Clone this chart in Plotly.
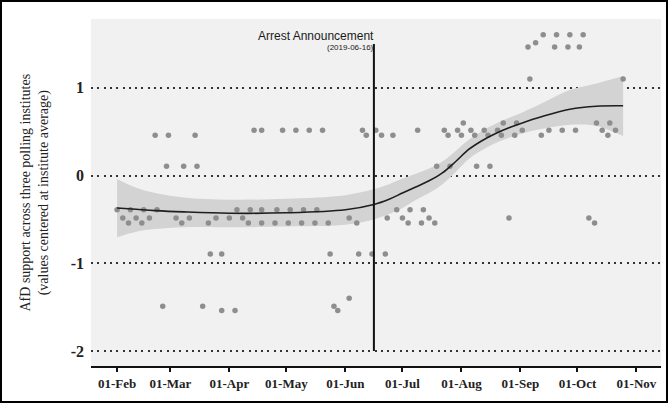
import plotly.graph_objects as go

# ---- data: centered AfD polling values ----
poll_dates = [
    "2019-02-01", "2019-02-04", "2019-02-07", "2019-02-08", "2019-02-11", "2019-02-14",
    "2019-02-15", "2019-02-18", "2019-02-21", "2019-02-22", "2019-02-25", "2019-02-27",
    "2019-02-28", "2019-03-04", "2019-03-07", "2019-03-08", "2019-03-11", "2019-03-14",
    "2019-03-15", "2019-03-18", "2019-03-21", "2019-03-22", "2019-03-25", "2019-03-28",
    "2019-03-28", "2019-04-01", "2019-04-04", "2019-04-05", "2019-04-08", "2019-04-11",
    "2019-04-12", "2019-04-14", "2019-04-18", "2019-04-18", "2019-04-18", "2019-04-25",
    "2019-04-26", "2019-04-29", "2019-05-02", "2019-05-03", "2019-05-06", "2019-05-09",
    "2019-05-10", "2019-05-13", "2019-05-16", "2019-05-17", "2019-05-20", "2019-05-23",
    "2019-05-24", "2019-05-26", "2019-05-28", "2019-06-03", "2019-06-03", "2019-06-07",
    "2019-06-08", "2019-06-10", "2019-06-12", "2019-06-15", "2019-06-17", "2019-06-20",
    "2019-06-22", "2019-06-23", "2019-06-26", "2019-06-28", "2019-07-01", "2019-07-04",
    "2019-07-05", "2019-07-09", "2019-07-11", "2019-07-12", "2019-07-15", "2019-07-18",
    "2019-07-19", "2019-07-23", "2019-07-25", "2019-07-26", "2019-07-30", "2019-08-01",
    "2019-08-02", "2019-08-06", "2019-08-08", "2019-08-09", "2019-08-13", "2019-08-15",
    "2019-08-16", "2019-08-20", "2019-08-22", "2019-08-23", "2019-08-26", "2019-08-29",
    "2019-08-30", "2019-09-02", "2019-09-05", "2019-09-06", "2019-09-09", "2019-09-12",
    "2019-09-13", "2019-09-16", "2019-09-19", "2019-09-20", "2019-09-23", "2019-09-26",
    "2019-09-27", "2019-09-30", "2019-10-02", "2019-10-04", "2019-10-07", "2019-10-10",
    "2019-10-11", "2019-10-14", "2019-10-17", "2019-10-18", "2019-10-21", "2019-10-25",
]
poll_values = [
    -0.39, -0.485, -0.54, -0.39, -0.485, -0.54,
    -0.39, -0.485, 0.46, -0.39, -1.49, 0.105,
    0.46, -0.485, -0.54, 0.105, -0.485, 0.46,
    0.105, -1.49, -0.54, -0.895, -0.485, -0.895,
    -1.54, -0.485, -1.54, -0.39, -0.485, -0.54,
    -0.39, 0.515, 0.515, -0.39, -0.54, -0.54,
    -0.39, 0.515, -0.54, -0.39, 0.515, -0.54,
    -0.39, 0.515, -0.54, -0.39, 0.515, -0.54,
    -0.895, -1.49, -1.54, -0.485, -1.40, -0.54,
    -0.895, 0.515, 0.46, -0.895, 0.515, 0.46,
    -0.895, -0.485, 0.46, -0.39, -0.485, -0.54,
    -0.39, 0.515, -0.54, -0.39, -0.485, -0.54,
    0.105, 0.515, 0.46, 0.105, 0.515, 0.46,
    0.60, 0.515, 0.46, 0.105, 0.515, 0.46,
    0.105, 0.515, 0.46, 0.60, -0.485, 0.46,
    0.60, 0.515, 1.465, 1.10, 1.515, 0.46,
    1.605, 0.515, 1.465, 1.605, 0.515, 1.465,
    1.605, 0.515, 1.465, 1.605, -0.485, -0.54,
    0.60, 0.515, 0.46, 0.60, 0.515, 1.10,
]

# ---- smoothed trend with confidence band ----
fit_dates = ["2019-02-01", "2019-02-11", "2019-02-21", "2019-03-08", "2019-04-01",
             "2019-05-01", "2019-06-01", "2019-06-16", "2019-06-24", "2019-07-01",
             "2019-07-08", "2019-07-15", "2019-07-22", "2019-07-29", "2019-08-05",
             "2019-08-12", "2019-08-19", "2019-08-26", "2019-09-02", "2019-09-12",
             "2019-09-27", "2019-10-11", "2019-10-25"]
fit_mid = [-0.37, -0.385, -0.40, -0.415, -0.43, -0.425, -0.39, -0.33, -0.27, -0.20,
           -0.13, -0.06, 0.03, 0.16, 0.30, 0.40, 0.48, 0.545, 0.60, 0.67,
           0.755, 0.79, 0.795]
fit_hi = [-0.04, -0.14, -0.20, -0.25, -0.275, -0.265, -0.225, -0.155, -0.10, -0.035,
          0.02, 0.08, 0.16, 0.28, 0.41, 0.51, 0.59, 0.66, 0.72, 0.82,
          0.975, 1.05, 1.135]
fit_lo = [-0.705, -0.64, -0.61, -0.59, -0.59, -0.58, -0.56, -0.50, -0.44, -0.37,
          -0.28, -0.20, -0.10, 0.04, 0.19, 0.29, 0.37, 0.43, 0.48, 0.53,
          0.58, 0.565, 0.45]

event_date = "2019-06-16"
event_label = "Arrest Announcement"
event_sub = "(2019-06-16)"

tick_dates = ["2019-02-01", "2019-03-01", "2019-04-01", "2019-05-01", "2019-06-01",
              "2019-07-01", "2019-08-01", "2019-09-01", "2019-10-01", "2019-11-01"]
tick_labels = ["01-Feb", "01-Mar", "01-Apr", "01-May", "01-Jun",
               "01-Jul", "01-Aug", "01-Sep", "01-Oct", "01-Nov"]
y_ticks = [-2, -1, 0, 1]
y_labels = ["-2", "-1", "0", "1"]

W, H = 668, 403
ML, MR, MT, MB = 91, 7, 19, 37
PW, PH = W - ML - MR, H - MT - MB

fig = go.Figure()

fig.add_trace(go.Scatter(x=fit_dates, y=fit_lo, mode="lines",
                         line=dict(width=0, shape="spline"), hoverinfo="skip",
                         showlegend=False))
fig.add_trace(go.Scatter(x=fit_dates, y=fit_hi, mode="lines", fill="tonexty",
                         fillcolor="#d3d3d3", line=dict(width=0, shape="spline"),
                         hoverinfo="skip", showlegend=False))
fig.add_trace(go.Scatter(x=poll_dates, y=poll_values, mode="markers",
                         marker=dict(size=5.5, color="#8e8e8e"), showlegend=False))
fig.add_trace(go.Scatter(x=fit_dates, y=fit_mid, mode="lines",
                         line=dict(color="#1e1e1e", width=1.6, shape="spline"),
                         showlegend=False))
fig.add_trace(go.Scatter(x=[event_date, event_date], y=[-2, 1.5], mode="lines",
                         line=dict(color="#111111", width=2), showlegend=False))

fig.add_annotation(x=event_date, y=1.59, xref="x", yref="y", text=event_label,
                   showarrow=False, xanchor="right", yanchor="middle", xshift=2,
                   font=dict(family="Liberation Sans", size=12, color="#1a1a1a"))
fig.add_annotation(x=event_date, y=1.455, xref="x", yref="y", text=event_sub,
                   showarrow=False, xanchor="right", yanchor="middle", xshift=2,
                   font=dict(family="Liberation Sans", size=8, color="#1a1a1a"))

fig.add_annotation(x=(34 - ML) / PW, y=0.5, xref="paper", yref="paper",
                   text="AfD support across three polling institutes<br>(values centered at institute average)",
                   textangle=-90, showarrow=False, xanchor="center", yanchor="middle",
                   font=dict(family="Liberation Serif", size=14, color="#222222"))

# outer frame
fig.add_shape(type="rect", xref="paper", yref="paper",
              x0=(1 - ML) / PW, x1=(W - 1 - ML) / PW,
              y0=-(MB - 1) / PH, y1=(PH + MT - 1) / PH,
              line=dict(color="#000000", width=2), fillcolor="rgba(0,0,0,0)")

fig.update_layout(
    width=W, height=H, autosize=False,
    margin=dict(l=ML, r=MR, t=MT, b=MB, pad=0),
    paper_bgcolor="white", plot_bgcolor="#f1f1f1",
    xaxis=dict(type="date", range=["2019-01-18 07:00", "2019-11-13 22:00"],
               tickvals=tick_dates, ticktext=tick_labels,
               showgrid=False, zeroline=False,
               showline=True, linecolor="#111111", linewidth=2,
               ticks="outside", ticklen=4, tickwidth=2, tickcolor="#111111",
               tickfont=dict(family="Liberation Serif", size=13, color="#222222", weight="bold")),
    yaxis=dict(range=[-2.172, 1.785], tickvals=y_ticks, ticktext=y_labels,
               showgrid=True, gridcolor="#333333", gridwidth=1.6, griddash="2px,4.3px",
               zeroline=False, showline=False, ticks="", ticklabelstandoff=6,
               tickfont=dict(family="Liberation Serif", size=16, color="#222222", weight="bold")),
)

fig.write_html("out.html")
